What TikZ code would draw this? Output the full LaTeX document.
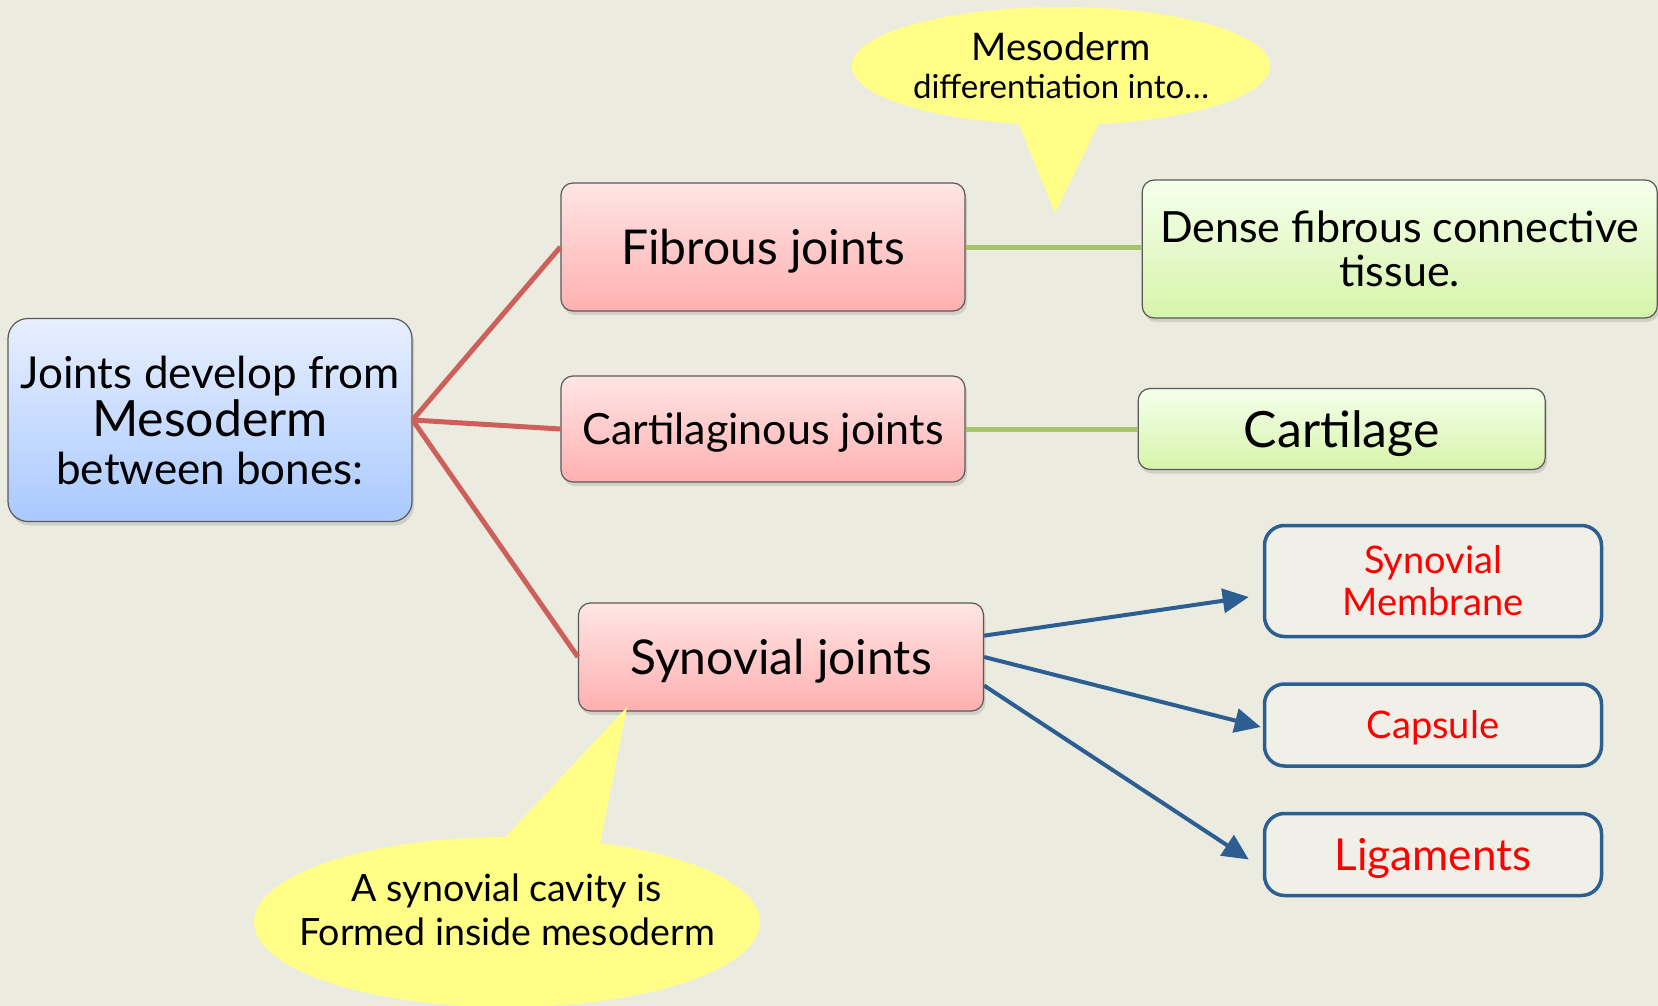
\documentclass[tikz,border=0pt]{standalone}
\usepackage{fontspec}
\setmainfont{Lato}
\usepackage{xcolor}
\usetikzlibrary{shapes,shapes.callouts,arrows.meta,positioning,shadows}

\definecolor{bgcol}{RGB}{235,235,224}
\definecolor{redtop}{RGB}{255,229,229}
\definecolor{redbot}{RGB}{255,176,176}
\definecolor{bluetop}{RGB}{231,239,255}
\definecolor{bluebot}{RGB}{170,201,255}
\definecolor{greentop}{RGB}{245,255,236}
\definecolor{greenbot}{RGB}{214,244,170}
\definecolor{linkred}{RGB}{205,96,90}
\definecolor{linkgreen}{RGB}{166,196,104}
\definecolor{darkblue}{RGB}{44,94,146}
\definecolor{bubblecol}{RGB}{255,255,136}
\definecolor{outfill}{RGB}{241,240,232}

\newcommand{\fs}[2]{\fontsize{#1}{#2}\selectfont}

\begin{document}
\begin{tikzpicture}[
    x=1pt, y=-1pt,
    box/.style={rectangle, draw=gray!70!black, line width=1.2pt, align=center, inner sep=0pt,
        drop shadow={shadow xshift=2pt, shadow yshift=-4pt, opacity=0.25}},
    redbox/.style={box, rounded corners=12pt, top color=redtop, bottom color=redbot, minimum width=404pt, text depth=0pt},
    greenbox/.style={box, rounded corners=12pt, top color=greentop, bottom color=greenbot},
    outbox/.style={rectangle, draw=darkblue, line width=3.5pt, rounded corners=20pt, fill=outfill,
        align=center, inner sep=0pt, minimum width=337pt, text=red},
    redlink/.style={draw=linkred, line width=5pt},
    greenlink/.style={draw=linkgreen, line width=5pt},
    arrow/.style={draw=darkblue, line width=4pt, -{Triangle[length=26pt,width=24pt]}},
    bubble/.style={ellipse callout, fill=bubblecol, align=center, inner sep=0pt, callout pointer arc=22}
]

% Background
\useasboundingbox (0,0) rectangle (1658,1006);
\fill[bgcol] (0,0) rectangle (1658,1006);

% Left box
\node[box, rounded corners=20pt, top color=bluetop, bottom color=bluebot,
      minimum width=404pt, minimum height=203pt, font=\fs{44}{48}] (mes) at (210,420)
    {Joints develop from\\ \fs{50}{48}Mesoderm\\ between bones:};

% Joint types
\node[redbox, minimum height=128pt, font=\fs{48}{48}] (fib) at (763,247) {Fibrous joints};
\node[redbox, minimum height=106pt, font=\fs{43}{48}] (cart) at (763,429) {Cartilaginous joints};
\node[redbox, minimum height=108pt, minimum width=405pt, font=\fs{48}{48}] (syn) at (781,657) {Synovial joints};

% Tissues
\node[greenbox, minimum width=515pt, minimum height=138pt, right=176pt of fib, yshift=-2pt, font=\fs{43}{44.5}] (dense)
    {Dense fibrous connective\\ tissue.};
\node[greenbox, minimum width=407pt, minimum height=81pt, right=172pt of cart, font=\fs{50}{48}, text depth=0pt] (cartl)
    {Cartilage};

% Synovial parts
\node[outbox, minimum height=111pt, font=\fs{38}{42}] (memb) at (1433,581) {Synovial\\ Membrane};
\node[outbox, minimum height=82pt, below=44pt of memb, font=\fs{38}{42}, text depth=0pt] (caps) {Capsule};
\node[outbox, minimum height=82pt, below=44pt of caps, font=\fs{44}{42}, text depth=0pt] (liga) {Ligaments};

% Links
\draw[redlink] (mes.east) -- (fib.west);
\draw[redlink] (mes.east) -- (cart.west);
\draw[redlink] (mes.east) -- (syn.west);
\draw[greenlink] (fib.east) -- (dense.west |- fib.east);
\draw[greenlink] (cart.east) -- (cartl.west);

\draw[arrow] (syn.6) -- ([xshift=-14pt, yshift=-16pt]memb.west);
\draw[arrow] (syn.east) -- ([xshift=-2pt, yshift=-2pt]caps.west);
\draw[arrow] (syn.-8) -- ([xshift=-14pt, yshift=-5pt]liga.west);

% Callouts
\node[bubble, minimum width=416pt, minimum height=118pt, callout absolute pointer={(1055,213)},
      font=\fs{38}{38}] (diff) at (1061,66)
    {Mesoderm\\ \fs{33}{38}differentiation into…};
\node[bubble, minimum width=506pt, minimum height=170pt, callout absolute pointer={(627,707)}] (cav) at (507,922) {};
\node[align=center, font=\fs{37.6}{44}] (cavtext) at ([yshift=12pt]cav.center)
    {A synovial cavity is\\ Formed inside mesoderm};

\end{tikzpicture}
\end{document}
